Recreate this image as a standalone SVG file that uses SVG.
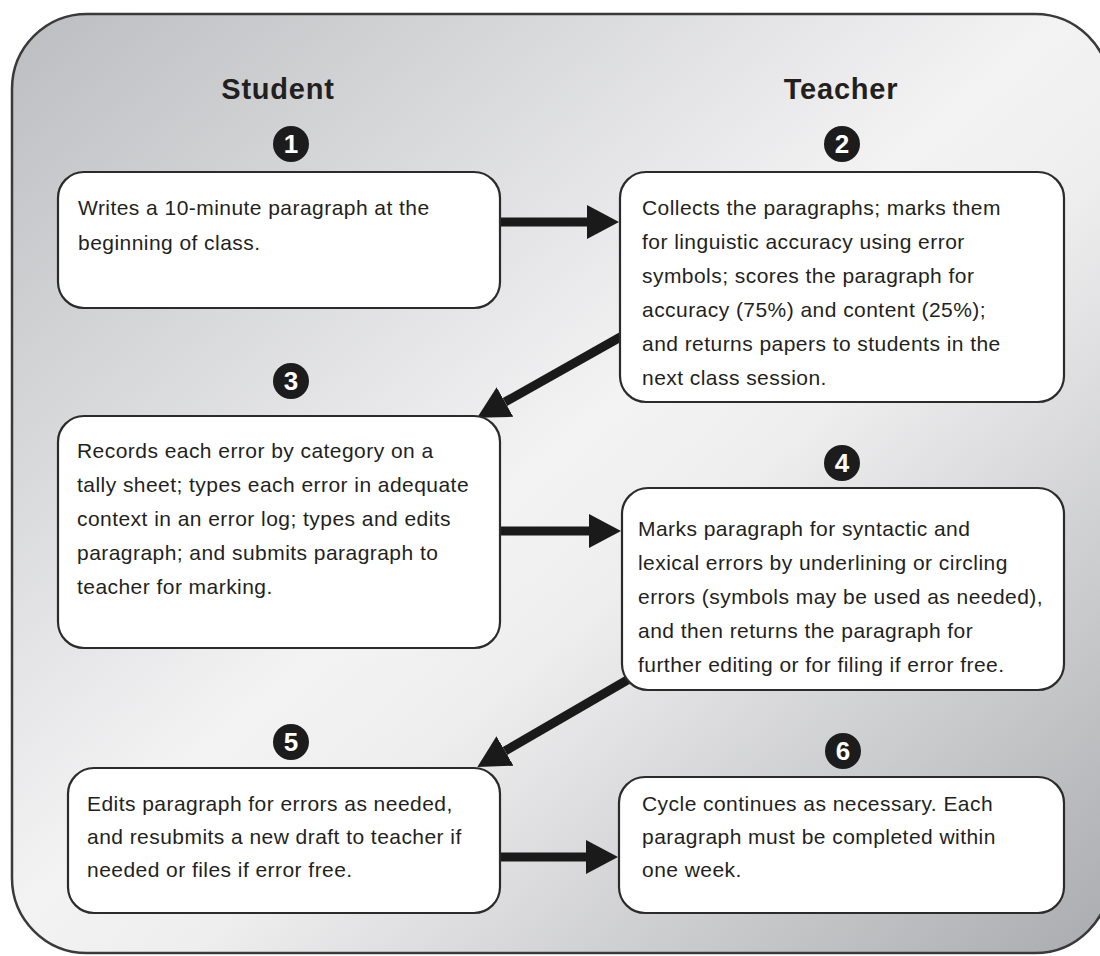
<svg xmlns="http://www.w3.org/2000/svg" width="1100" height="956" viewBox="0 0 1100 956">
<defs>
<linearGradient id="bg" x1="0" y1="0" x2="1" y2="1">
<stop offset="0" stop-color="#bcbdc0"/>
<stop offset="0.48" stop-color="#f3f3f4"/>
<stop offset="0.58" stop-color="#eeeeef"/>
<stop offset="1" stop-color="#aaabae"/>
</linearGradient>
<marker id="ah" markerUnits="userSpaceOnUse" markerWidth="32" markerHeight="34" viewBox="0 0 32 34" refX="0" refY="17" orient="auto">
<path d="M0,0 L32,17 L0,34 Z" fill="#1a1a1a"/>
</marker>
<style>
.frame{fill:url(#bg);stroke:#3a3a3a;stroke-width:2.5}
.box{fill:#ffffff;stroke:#2b2b2b;stroke-width:2.2}
.hdr{font-family:"Liberation Sans",Arial,sans-serif;font-weight:bold;font-size:29px;fill:#231f20;text-anchor:middle;letter-spacing:0.8px}
.t{font-family:"Liberation Sans",Arial,sans-serif;font-size:21px;fill:#231f20;letter-spacing:0.45px}
.num{fill:#1c1c1c}
.nt{font-family:"Liberation Sans",Arial,sans-serif;font-weight:bold;font-size:26px;fill:#ffffff;text-anchor:middle}
.arr{stroke:#1a1a1a;stroke-width:9;fill:none;marker-end:url(#ah)}
</style>
</defs>
<rect class="frame" x="12" y="14" width="1098" height="939" rx="75" ry="75"/>
<text class="hdr" x="278" y="99">Student</text>
<text class="hdr" x="841" y="99">Teacher</text>
<g id="connectors">
<line class="arr" x1="500" y1="222" x2="587" y2="222"/>
<line class="arr" x1="624" y1="335" x2="505" y2="402"/>
<line class="arr" x1="500" y1="531" x2="589" y2="531"/>
<line class="arr" x1="636" y1="675" x2="505" y2="751"/>
<line class="arr" x1="498" y1="857" x2="586" y2="857"/>
</g>
<g id="step1">
<circle class="num" cx="291" cy="144" r="18"/>
<text class="nt" x="291" y="153">1</text>
<rect class="box" x="58" y="172" width="442" height="136" rx="26"/>
<text class="t" x="78" y="215">Writes a 10-minute paragraph at the</text>
<text class="t" x="78" y="250">beginning of class.</text>
</g>
<g id="step2">
<circle class="num" cx="842" cy="144" r="18"/>
<text class="nt" x="842" y="153">2</text>
<rect class="box" x="620" y="172" width="444" height="230" rx="26"/>
<text class="t" x="642" y="215">Collects the paragraphs; marks them</text>
<text class="t" x="642" y="249">for linguistic accuracy using error</text>
<text class="t" x="642" y="283">symbols; scores the paragraph for</text>
<text class="t" x="642" y="317">accuracy (75%) and content (25%);</text>
<text class="t" x="642" y="351">and returns papers to students in the</text>
<text class="t" x="642" y="385">next class session.</text>
</g>
<g id="step3">
<circle class="num" cx="291" cy="381" r="18"/>
<text class="nt" x="291" y="390">3</text>
<rect class="box" x="58" y="416" width="442" height="232" rx="26"/>
<text class="t" x="77" y="458">Records each error by category on a</text>
<text class="t" x="77" y="492">tally sheet; types each error in adequate</text>
<text class="t" x="77" y="526">context in an error log; types and edits</text>
<text class="t" x="77" y="560">paragraph; and submits paragraph to</text>
<text class="t" x="77" y="594">teacher for marking.</text>
</g>
<g id="step4">
<circle class="num" cx="842" cy="463" r="18"/>
<text class="nt" x="842" y="472">4</text>
<rect class="box" x="622" y="488" width="442" height="202" rx="26"/>
<text class="t" x="638" y="536">Marks paragraph for syntactic and</text>
<text class="t" x="638" y="570">lexical errors by underlining or circling</text>
<text class="t" x="638" y="604">errors (symbols may be used as needed),</text>
<text class="t" x="638" y="638">and then returns the paragraph for</text>
<text class="t" x="638" y="672">further editing or for filing if error free.</text>
</g>
<g id="step5">
<circle class="num" cx="291" cy="742" r="18"/>
<text class="nt" x="291" y="751">5</text>
<rect class="box" x="68" y="768" width="432" height="145" rx="26"/>
<text class="t" x="87" y="811">Edits paragraph for errors as needed,</text>
<text class="t" x="87" y="844">and resubmits a new draft to teacher if</text>
<text class="t" x="87" y="877">needed or files if error free.</text>
</g>
<g id="step6">
<circle class="num" cx="843" cy="751" r="18"/>
<text class="nt" x="843" y="760">6</text>
<rect class="box" x="619" y="777" width="445" height="136" rx="26"/>
<text class="t" x="642" y="811">Cycle continues as necessary. Each</text>
<text class="t" x="642" y="844">paragraph must be completed within</text>
<text class="t" x="642" y="877">one week.</text>
</g>
</svg>
